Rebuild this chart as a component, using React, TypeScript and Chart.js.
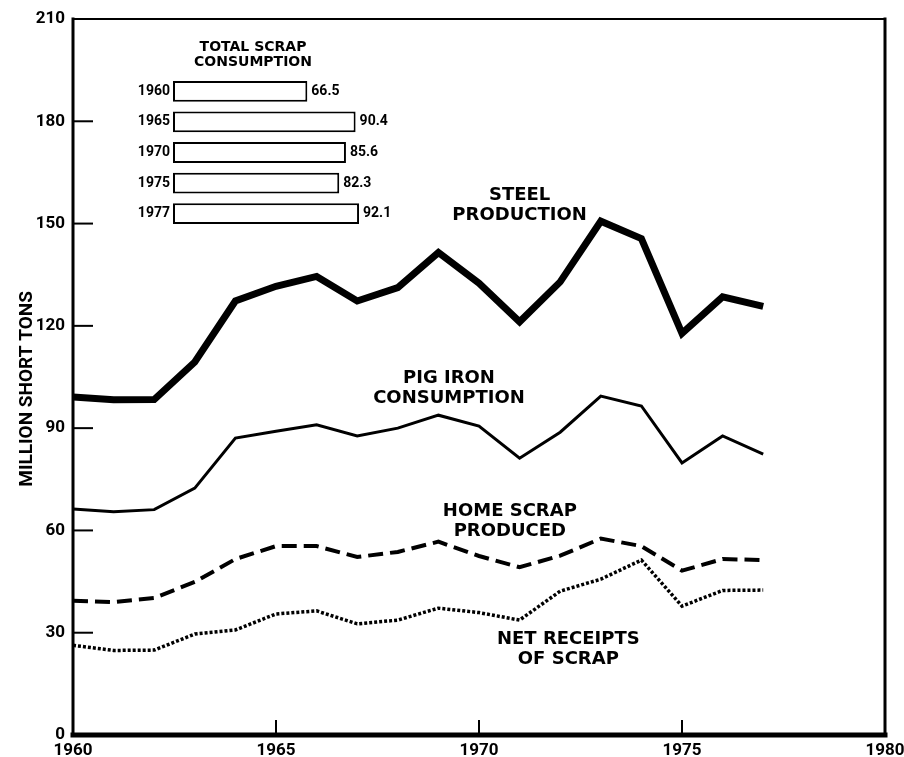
import React, { useEffect, useRef } from 'react';
import { Chart, registerables } from 'chart.js';
Chart.register(...registerables);

// ---- Data ----
const years = [1960, 1961, 1962, 1963, 1964, 1965, 1966, 1967, 1968, 1969, 1970, 1971, 1972, 1973, 1974, 1975, 1976, 1977];
const steelProduction = [99.1, 98.3, 98.4, 109.4, 127.3, 131.6, 134.5, 127.3, 131.2, 141.5, 132.5, 121.2, 132.9, 150.7, 145.6, 117.8, 128.5, 125.7];
const pigIronConsumption = [66.3, 65.5, 66.1, 72.4, 87.1, 89.1, 91.0, 87.7, 90.0, 93.8, 90.6, 81.2, 88.8, 99.4, 96.5, 79.8, 87.7, 82.4];
const homeScrapProduced = [39.4, 39.0, 40.2, 44.9, 51.6, 55.4, 55.4, 52.2, 53.7, 56.7, 52.5, 49.2, 52.6, 57.6, 55.4, 48.2, 51.6, 51.3];
const netReceiptsOfScrap = [26.3, 24.8, 24.9, 29.6, 30.8, 35.5, 36.4, 32.6, 33.7, 37.2, 35.9, 33.7, 42.2, 45.7, 51.3, 37.8, 42.4, 42.5];

const xTicks = [1960, 1965, 1970, 1975, 1980];
const yTicks = [0, 30, 60, 90, 120, 150, 180, 210];

const scrapYears = ['1960', '1965', '1970', '1975', '1977'];
const scrapTotals = [66.5, 90.4, 85.6, 82.3, 92.1];

const FONT = '"DejaVu Sans", sans-serif';
const NUM_FONT = 'Roboto, "DejaVu Sans", sans-serif';

export default function App() {
  const mainRef = useRef<HTMLCanvasElement>(null);
  const insetRef = useRef<HTMLCanvasElement>(null);

  useEffect(() => {
    const toPts = (vals: number[]) => years.map((y, i) => ({ x: y, y: vals[i] }));

    const framePlugin = {
      id: 'frame',
      afterDatasetsDraw(chart: any) {
        const { ctx, chartArea: ca, scales } = chart;
        const xs = scales.x;
        const ys = scales.y;
        ctx.save();
        ctx.strokeStyle = '#000';
        ctx.lineCap = 'square';
        ctx.lineWidth = 2;
        ctx.beginPath(); ctx.moveTo(ca.left, ca.top); ctx.lineTo(ca.right, ca.top); ctx.stroke();
        ctx.lineWidth = 3;
        ctx.beginPath(); ctx.moveTo(ca.right, ca.top); ctx.lineTo(ca.right, ca.bottom); ctx.stroke();
        ctx.lineWidth = 3;
        ctx.beginPath(); ctx.moveTo(ca.left, ca.top); ctx.lineTo(ca.left, ca.bottom); ctx.stroke();
        ctx.lineWidth = 5;
        ctx.beginPath(); ctx.moveTo(ca.left, ca.bottom); ctx.lineTo(ca.right, ca.bottom); ctx.stroke();
        ctx.lineCap = 'butt';
        ctx.lineWidth = 2;
        yTicks.slice(1, -1).forEach((v) => {
          const py = ys.getPixelForValue(v);
          ctx.beginPath(); ctx.moveTo(ca.left, py); ctx.lineTo(ca.left + 20, py); ctx.stroke();
        });
        xTicks.slice(1, -1).forEach((v) => {
          const px = xs.getPixelForValue(v);
          ctx.beginPath(); ctx.moveTo(px, ca.bottom); ctx.lineTo(px, ca.bottom - 15); ctx.stroke();
        });
        const labels = [
          { lines: ['STEEL', 'PRODUCTION'], x: 1971.0, y: 155.3 },
          { lines: ['PIG IRON', 'CONSUMPTION'], x: 1969.26, y: 101.8 },
          { lines: ['HOME SCRAP', 'PRODUCED'], x: 1970.76, y: 62.8 },
          { lines: ['NET RECEIPTS', 'OF SCRAP'], x: 1972.2, y: 25.2 },
        ];
        ctx.fillStyle = '#000';
        ctx.font = `bold 18px ${FONT}`;
        ctx.textAlign = 'center';
        ctx.textBaseline = 'middle';
        labels.forEach((l) => {
          const px = xs.getPixelForValue(l.x);
          const py = ys.getPixelForValue(l.y);
          ctx.fillText(l.lines[0], px, py - 10);
          ctx.fillText(l.lines[1], px, py + 10);
        });
        // y-axis title
        ctx.save();
        ctx.translate(27, ys.getPixelForValue(101.5));
        ctx.rotate(-Math.PI / 2);
        ctx.font = `bold 19px ${NUM_FONT}`;
        ctx.fillText('MILLION SHORT TONS', 0, 0);
        ctx.restore();
        ctx.restore();
      },
    };

    const tickFont = { family: NUM_FONT, size: 17, weight: 'bold' as const };

    const main = new Chart(mainRef.current!, {
      type: 'line',
      data: {
        datasets: [
          { data: toPts(steelProduction), borderColor: '#000', borderWidth: 7, pointRadius: 0, tension: 0, borderJoinStyle: 'miter' },
          { data: toPts(pigIronConsumption), borderColor: '#000', borderWidth: 3, pointRadius: 0, tension: 0, borderJoinStyle: 'miter' },
          { data: toPts(homeScrapProduced), borderColor: '#000', borderWidth: 4, borderDash: [15, 7], pointRadius: 0, tension: 0 },
          { data: toPts(netReceiptsOfScrap), borderColor: '#000', borderWidth: 3.5, borderDash: [3, 2], pointRadius: 0, tension: 0 },
        ] as any,
      },
      options: {
        animation: false,
        responsive: false,
        layout: { padding: { left: 0, top: 19, right: 19, bottom: 0 } },
        plugins: { legend: { display: false }, tooltip: { enabled: false } },
        scales: {
          x: {
            type: 'linear',
            min: 1960,
            max: 1980,
            afterBuildTicks: (s: any) => { s.ticks = xTicks.map((v) => ({ value: v })); },
            ticks: { color: '#000', font: tickFont, padding: 6, maxRotation: 0, autoSkip: false, callback: (v: any) => String(v) },
            grid: { display: false, drawTicks: false },
            border: { display: false },
            afterFit: (s: any) => { s.height = 22; s.paddingLeft = 0; s.paddingRight = 0; },
          },
          y: {
            min: 0,
            max: 210,
            afterBuildTicks: (s: any) => { s.ticks = yTicks.map((v) => ({ value: v })); },
            ticks: { color: '#000', font: tickFont, padding: 8, callback: (v: any) => String(v) },
            grid: { display: false, drawTicks: false },
            border: { display: false },
            title: { display: false },
            afterFit: (s: any) => { s.width = 73; s.paddingTop = 0; s.paddingBottom = 0; },
          },
        },
      } as any,
      plugins: [framePlugin],
    });

    const insetPlugin = {
      id: 'insetText',
      afterDatasetsDraw(chart: any) {
        const { ctx, chartArea: ca } = chart;
        const meta = chart.getDatasetMeta(0);
        ctx.save();
        ctx.fillStyle = '#000';
        ctx.font = `bold 14px ${NUM_FONT}`;
        ctx.textAlign = 'left';
        ctx.textBaseline = 'middle';
        meta.data.forEach((bar: any, i: number) => {
          ctx.fillText(scrapTotals[i].toFixed(1), bar.x + 4, bar.y);
        });
        ctx.textAlign = 'center';
        ctx.font = `bold 14px ${FONT}`;
        ctx.fillText('TOTAL SCRAP', ca.left + 80, ca.top - 29);
        ctx.fillText('CONSUMPTION', ca.left + 80, ca.top - 14);
        ctx.restore();
      },
    };

    const inset = new Chart(insetRef.current!, {
      type: 'bar',
      data: {
        labels: scrapYears,
        datasets: [{ data: scrapTotals, backgroundColor: '#fff', borderColor: '#000', borderWidth: 2, borderSkipped: false, barPercentage: 0.68, categoryPercentage: 1 }] as any,
      },
      options: {
        indexAxis: 'y',
        animation: false,
        responsive: false,
        layout: { padding: { left: 113, top: 76, right: 529, bottom: 528 } },
        plugins: { legend: { display: false }, tooltip: { enabled: false } },
        scales: {
          x: { display: false, min: 0, max: 100 },
          y: {
            ticks: { color: '#000', font: { family: NUM_FONT, size: 14, weight: 'bold' }, padding: 3 },
            grid: { display: false, drawTicks: false },
            border: { display: false },
            afterFit: (s: any) => { s.width = 60; s.paddingTop = 0; s.paddingBottom = 0; },
          },
        },
      } as any,
      plugins: [insetPlugin],
    });

    return () => { main.destroy(); inset.destroy(); };
  }, []);

  return (
    <div style={{ position: 'absolute', left: 0, top: 0, width: 904, height: 757, background: '#fff', overflow: 'hidden' }}>
      <canvas ref={mainRef} width={904} height={757} style={{ position: 'absolute', left: 0, top: 0, width: 904, height: 757 }} />
      <canvas ref={insetRef} width={904} height={757} style={{ position: 'absolute', left: 0, top: 0, width: 904, height: 757, pointerEvents: 'none' }} />
    </div>
  );
}
